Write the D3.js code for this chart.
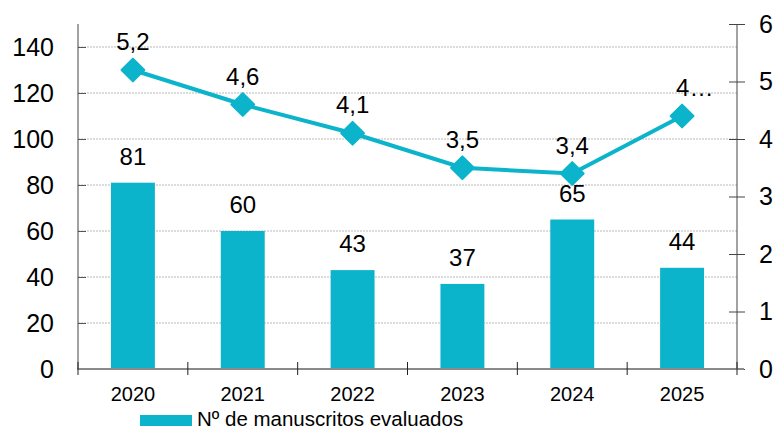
<!DOCTYPE html>
<html>
<head>
<meta charset="utf-8">
<script src="https://cdn.jsdelivr.net/npm/d3@7"></script>
<style>
  body { margin: 0; background: #fff; }
  text { font-family: "Liberation Sans", Arial, sans-serif; fill: #000; }
</style>
</head>
<body>
<div id="chart"></div>
<script>
// chart data
const years = ["2020", "2021", "2022", "2023", "2024", "2025"];
const manuscritos = [81, 60, 43, 37, 65, 44];
const ratio = [5.2, 4.6, 4.1, 3.5, 3.4, 4.4];
const ratioLabels = ["5,2", "4,6", "4,1", "3,5", "3,4", "4…"];
const leftTicks = [0, 20, 40, 60, 80, 100, 120, 140];
const rightTicks = [0, 1, 2, 3, 4, 5, 6];
const legendLabel = "Nº de manuscritos evaluados";

const W = 776, H = 429;
const margin = { top: 24, right: 39, bottom: 60, left: 78 },
      width = W - margin.left - margin.right,
      height = H - margin.top - margin.bottom;
const teal = "#0bb4ca";

const svg = d3.select("#chart")
  .append("svg")
    .attr("width", W)
    .attr("height", H)
  .append("g")
    .attr("transform", `translate(${margin.left},${margin.top})`);

// scales
const x = d3.scaleBand()
    .domain(years)
    .range([0, width])
    .paddingInner(0.6)
    .paddingOuter(0.3);
const yL = d3.scaleLinear().domain([0, 150]).range([height, 0]);
const yR = d3.scaleLinear().domain([0, 6]).range([height, 0]);
const cx = d => x(d) + x.bandwidth() / 2;

// dotted gridlines
svg.append("g")
  .selectAll("line")
  .data(leftTicks.filter(d => d > 0))
  .enter().append("line")
    .attr("x1", 0).attr("x2", width)
    .attr("y1", d => yL(d)).attr("y2", d => yL(d))
    .style("stroke", "#b8b8b8")
    .style("stroke-dasharray", "2,1");

// left axis
const left = svg.append("g")
    .call(d3.axisLeft(yL).tickValues(leftTicks).tickSize(-8).tickPadding(24));
left.select(".domain").attr("d", `M0,0V${height}`).style("stroke", "#444");
left.selectAll(".tick line").style("stroke", "#555");
left.selectAll(".tick text").style("font-size", "25px").attr("fill", "#000");

// right axis
const right = svg.append("g")
    .attr("transform", `translate(${width},0)`)
    .call(d3.axisRight(yR).tickValues(rightTicks).tickFormat(d3.format("d")).tickSize(8).tickPadding(14));
right.select(".domain").attr("d", `M0,0V${height}`).style("stroke", "#444");
right.selectAll(".tick line").attr("x1", -8).style("stroke", "#444");
right.selectAll(".tick text").style("font-size", "25px").attr("fill", "#000");

// bars
svg.append("g")
  .selectAll("rect")
  .data(manuscritos)
  .enter().append("rect")
    .attr("x", (d, i) => x(years[i]))
    .attr("y", d => yL(d))
    .attr("width", x.bandwidth())
    .attr("height", d => height - yL(d))
    .style("fill", teal);

// bar labels
svg.append("g")
  .selectAll("text")
  .data(manuscritos)
  .enter().append("text")
    .attr("x", (d, i) => cx(years[i]))
    .attr("y", d => yL(d) - 18)
    .attr("text-anchor", "middle")
    .style("font-size", "24px")
    .text(d => d);

// baseline + category ticks
svg.append("line")
    .attr("x1", -1).attr("x2", width + 7)
    .attr("y1", height).attr("y2", height)
    .style("stroke", "#8a8a8a")
    .style("stroke-width", 2);
svg.append("g")
  .selectAll("line")
  .data(d3.range(years.length + 1))
  .enter().append("line")
    .attr("x1", i => i * x.step()).attr("x2", i => i * x.step())
    .attr("y1", height - 7).attr("y2", height + 6)
    .style("stroke", "#222");

// year labels
svg.append("g")
  .selectAll("text")
  .data(years)
  .enter().append("text")
    .attr("x", d => cx(d))
    .attr("y", height + 32)
    .attr("text-anchor", "middle")
    .style("font-size", "20px")
    .text(d => d);

// line + diamonds
const line = d3.line()
    .x((d, i) => cx(years[i]))
    .y(d => yR(d));
svg.append("path")
    .datum(ratio)
    .attr("d", line)
    .style("fill", "none")
    .style("stroke", teal)
    .style("stroke-width", 4);

svg.append("g")
  .selectAll("path")
  .data(ratio)
  .enter().append("path")
    .attr("d", d3.symbol().type(d3.symbolSquare).size(260))
    .attr("transform", (d, i) => `translate(${cx(years[i])},${yR(d)}) rotate(45)`)
    .style("fill", teal)
    .style("stroke", teal)
    .style("stroke-width", 2)
    .style("stroke-linejoin", "round");

// line labels
svg.append("g")
  .selectAll("text")
  .data(ratio)
  .enter().append("text")
    .attr("x", (d, i) => i === ratio.length - 1 ? cx(years[i]) - 6 : cx(years[i]))
    .attr("y", d => yR(d) - 20)
    .attr("text-anchor", (d, i) => i === ratio.length - 1 ? "start" : "middle")
    .style("font-size", "24px")
    .text((d, i) => ratioLabels[i]);

// legend
const legend = svg.append("g")
    .attr("transform", `translate(${140 - margin.left},${H - margin.top - 14})`);
legend.append("rect")
    .attr("width", 52).attr("height", 11)
    .style("fill", teal);
legend.append("text")
    .attr("x", 57).attr("y", 11)
    .style("font-size", "20.5px")
    .text(legendLabel);
</script>
</body>
</html>
